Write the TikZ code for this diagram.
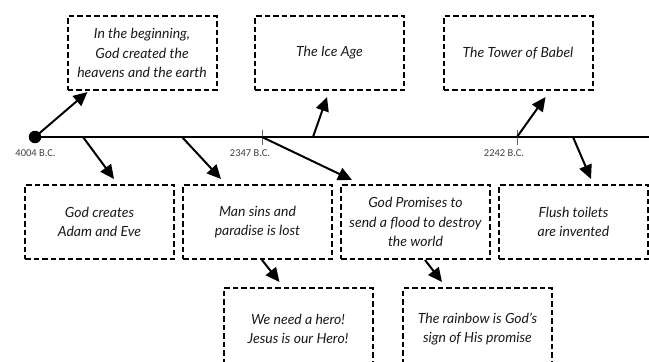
\documentclass[tikz,border=0pt]{standalone}
\usepackage{fontspec}
\setmainfont{Lato}
\newfontfamily\labelfont{Carlito}
\usetikzlibrary{arrows.meta,calc}
\tikzset{
  evbox/.style={draw=black, line width=2pt, dash pattern=on 5.5pt off 3pt,
    rectangle, minimum width=149pt, minimum height=74pt, align=center,
    inner sep=0pt, font=\itshape\fontsize{14}{19.5}\selectfont, text=black!90},
  evarrow/.style={line width=2pt, -{Triangle[length=14pt,width=13pt]}},
  tline/.style={line width=2pt},
  tickmark/.style={draw=black!60, line width=1pt},
  datelabel/.style={font=\labelfont\fontsize{10.5}{12}\selectfont, text=black!75, inner sep=0pt}
}
\begin{document}
\begin{tikzpicture}[x=1pt,y=-1pt]
\useasboundingbox (0,0) rectangle (649,362);
% boxes top
\node[evbox] (b1) at (142,53) {In the beginning,\\God created the\\heavens and the earth};
\node[evbox] (b2) at (329.5,53) {The Ice Age};
\node[evbox] (b3) at (518,53) {The Tower of Babel};
% boxes row 1
\node[evbox] (b4) at (99.5,222) {God creates\\Adam and Eve};
\node[evbox] (b5) at (257.5,222) {Man sins and\\paradise is lost};
\node[evbox] (b6) at (415.5,222) {God Promises to\\send a flood to destroy\\the world};
\node[evbox] (b7) at (573.5,222) {Flush toilets\\are invented};
% boxes row 2
\node[evbox, minimum height=82pt] (b8) at (298,329) {We need a hero!\\Jesus is our Hero!};
\node[evbox, minimum height=82pt] (b9) at (477.5,329) {The rainbow is God's\\sign of His promise};
% timeline
\coordinate (start) at (35,137);
\coordinate (end) at (652,137);
\draw[tline] (start) -- (end);
\node[circle, fill=black, minimum size=12.5pt, inner sep=0pt] (dot) at (start) {};
\coordinate (k1) at (262,137);
\coordinate (k2) at (517,137);
\draw[tickmark] ([yshift=7pt]k1) -- ([yshift=-8pt]k1);
\draw[tickmark] ([yshift=7pt]k2) -- ([yshift=-8pt]k2);
\node[datelabel] (l1) at (35.5,153) {4004 B.C.};
\node[datelabel] (l2) at (250,153) {2347 B.C.};
\node[datelabel] (l3) at (504,153) {2242 B.C.};
% points on the timeline
\coordinate (p2) at (313,137);
\coordinate (p4) at (83,137);
\coordinate (p5) at (182,137);
\coordinate (p7) at (573,137);
% arrows
\draw[evarrow] (dot.center) -- ([xshift=21pt,yshift=-1pt]b1.south west);
\draw[evarrow] (p2) -- ([xshift=73pt,yshift=-6pt]b2.south west);
\draw[evarrow] (k2) -- ([xshift=103pt,yshift=-6pt]b3.south west);
\draw[evarrow] (p4) -- ([xshift=90pt,yshift=5pt]b4.north west);
\draw[evarrow] (p5) -- ([xshift=39pt,yshift=5pt]b5.north west);
\draw[evarrow] (k1) -- ([xshift=12pt,yshift=4pt]b6.north west);
\draw[evarrow] (p7) -- ([xshift=93pt,yshift=5pt]b7.north west);
\draw[evarrow] ([xshift=80pt]b5.south west) -- ([xshift=57pt,yshift=5pt]b8.north west);
\draw[evarrow] ([xshift=85pt]b6.south west) -- ([xshift=40pt,yshift=5pt]b9.north west);
\end{tikzpicture}
\end{document}
